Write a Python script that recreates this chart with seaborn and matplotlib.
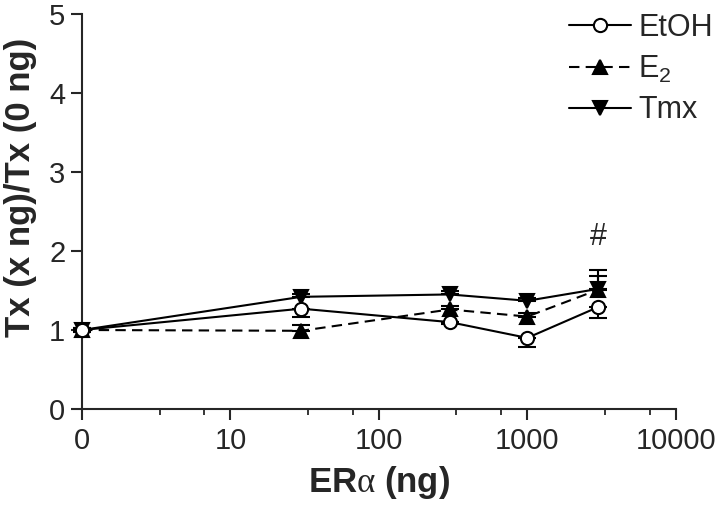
import numpy as np
import pandas as pd
import matplotlib
matplotlib.use("Agg")
import matplotlib.pyplot as plt
import matplotlib.ticker as mticker
import seaborn as sns

# --- DATOS ---
dosis = [1, 30, 300, 1000, 3000]          # 1 se etiqueta como "0"
grupos = ["EtOH", "E$_2$", "Tmx"]
etoh = [1.0, 1.27, 1.10, 0.90, 1.29]
e2 = [1.0, 0.99, 1.26, 1.17, 1.51]
tmx = [1.0, 1.42, 1.45, 1.37, 1.52]
etoh_err = [0.03, 0.10, 0.03, 0.12, 0.14]   # barra hacia abajo
e2_err = [0.03, 0.07, 0.05, 0.05, 0.25]     # barra hacia arriba
tmx_err = [0.03, 0.04, 0.04, 0.04, 0.16]    # barra hacia arriba
xticks = [1, 10, 100, 1000, 10000]
xtick_labels = ["0", "10", "100", "1000", "10000"]

sns.set_style("ticks")
plt.rcParams['font.family'] = ['Liberation Sans', 'DejaVu Sans']
plt.rcParams['mathtext.fontset'] = 'custom'
plt.rcParams['mathtext.rm'] = 'Liberation Sans'
plt.rcParams['mathtext.sf'] = 'Liberation Serif'

df = pd.DataFrame({
    "dosis": dosis * 3,
    "valor": etoh + e2 + tmx,
    "grupo": [g for g in grupos for _ in dosis],
})

fig = plt.figure(figsize=(7.2, 5.11), dpi=100)
ax = fig.add_axes([0.1139, 0.1996, 0.8246, 0.773])

# barras de error (un solo lado, estilo Prism)
for vals, err, lado in [(etoh, etoh_err, "abajo"), (e2, e2_err, "arriba"), (tmx, tmx_err, "arriba")]:
    zeros = [0] * len(err)
    yerr = [err, zeros] if lado == "abajo" else [zeros, err]
    ax.errorbar(dosis, vals, yerr=yerr, fmt='none', ecolor='black',
                elinewidth=1.5, capsize=6.5, capthick=1.5, clip_on=False, zorder=2)

sns.lineplot(data=df, x="dosis", y="valor", hue="grupo", style="grupo",
             hue_order=grupos, style_order=grupos,
             palette=["black"] * 3,
             markers={"EtOH": "o", "E$_2$": "^", "Tmx": "v"},
             dashes={"EtOH": "", "E$_2$": (5, 3), "Tmx": ""},
             markersize=9.5, linewidth=1.5, markeredgewidth=1.5,
             markeredgecolor="black", ax=ax, clip_on=False, zorder=3)

# círculos abiertos para EtOH
for line in ax.get_lines():
    if line.get_marker() == "o":
        line.set_markerfacecolor("white")
        line.set_zorder(4)

ax.set_xscale("log")
ax.set_xlim(1, 10000)
ax.set_ylim(0, 5)
ax.xaxis.set_major_locator(mticker.FixedLocator(xticks))
ax.xaxis.set_major_formatter(mticker.FixedFormatter(xtick_labels))
menores = [d * m for d in [1, 10, 100, 1000] for m in (10 / 3, 20 / 3)]
ax.xaxis.set_minor_locator(mticker.FixedLocator(menores))
ax.xaxis.set_minor_formatter(mticker.NullFormatter())
ax.set_yticks([0, 1, 2, 3, 4, 5])

sns.despine(ax=ax)
for s in ["left", "bottom"]:
    ax.spines[s].set_linewidth(1.5)
ax.tick_params(which="major", length=8, width=1.5, labelsize=21)
ax.tick_params(axis="x", which="major", pad=5)
ax.tick_params(axis="y", which="major", pad=4)
ax.tick_params(which="minor", length=4.5, width=1.3)

ax.set_xlabel(r"ER$\mathsf{\alpha}$ (ng)", fontsize=25, fontweight="bold")
ax.xaxis.set_label_coords(0.5, -0.21)
ax.xaxis.label.set_va("baseline")
ax.set_ylabel("Tx (x ng)/Tx (0 ng)", fontsize=25, fontweight="bold")
ax.yaxis.set_label_coords(-0.076, 0.56)

ax.text(3000, 2.18, "#", fontsize=22, ha="center", va="center")

leg = ax.legend(loc="upper right", bbox_to_anchor=(0.99, 0.975),
                bbox_transform=fig.transFigure, frameon=False,
                fontsize=22, handlelength=2.0, labelspacing=0.35,
                handletextpad=0.25, borderpad=0, borderaxespad=0)

fig.savefig("out.png", dpi=100)
